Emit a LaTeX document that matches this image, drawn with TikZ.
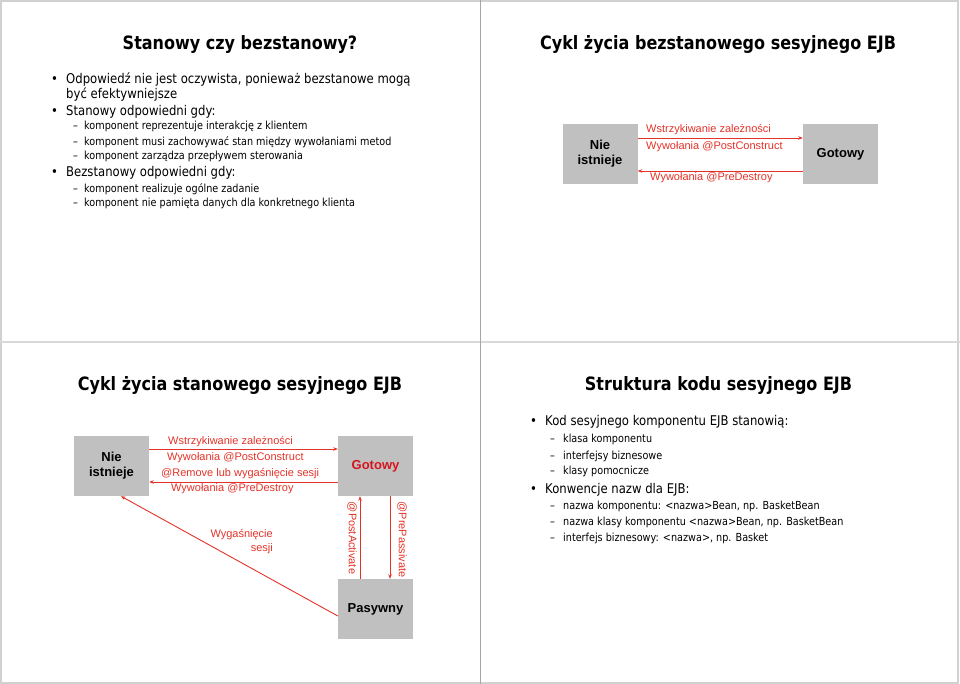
\documentclass[tikz,border=0pt]{standalone}
\usepackage{fontspec}
\setmainfont{DejaVu Sans}[FakeStretch=0.87]
\newfontfamily\arialf{Liberation Sans}
\usetikzlibrary{arrows.meta}
\definecolor{boxgray}{RGB}{192,192,192}
\definecolor{lred}{RGB}{228,50,40}
\definecolor{gred}{RGB}{215,20,30}
\begin{document}
\begin{tikzpicture}[x=1pt,y=-1pt,
  stitle/.style={font=\fontsize{18.4}{20}\selectfont\bfseries, inner sep=0},
  lvlone/.style={anchor=west, font=\fontsize{13.4}{15}\selectfont, inner sep=0, text height=10pt, text depth=3pt},
  lvltwo/.style={anchor=west, font=\fontsize{11.1}{13}\selectfont, inner sep=0, text height=8.4pt, text depth=2.6pt},
  statebox/.style={fill=boxgray, minimum width=75pt, minimum height=60pt, align=center, font=\arialf\bfseries\fontsize{13}{15}\selectfont, inner sep=0},
  lab/.style={font=\arialf\fontsize{11}{14}\selectfont, text=lred, inner sep=0},
  arr/.style={draw=lred, line width=0.9pt, -{Stealth[length=4.5pt,width=3.5pt]}},
  framel/.style={draw=black!18, line width=1.5pt}
]
\useasboundingbox (0,0) rectangle (960,684);
% frames
\draw[framel] (1,1) rectangle (958,683);
\draw[draw=black!15, line width=2.5pt] (0,342) -- (960,342);
\draw[draw=black!35, line width=1pt] (480,0) -- (480,684);

% ---------- slide 1
\node[stitle] (t1) at (240,44) {Stanowy czy bezstanowy?};
\node[lvlone] (b11) at (51,80) {•};
\node[lvlone] (s11) at (66,80) {Odpowiedź nie jest oczywista, ponieważ bezstanowe mogą};
\node[lvlone] (s12) at (66,95) {być efektywniejsze};
\node[lvlone] (b12) at (51,112) {•};
\node[lvlone] (s13) at (66,112) {Stanowy odpowiedni gdy:};
\node[lvltwo] (d11) at (73,127) {–};
\node[lvltwo] (u11) at (84,127) {komponent reprezentuje interakcję z klientem};
\node[lvltwo] (d12) at (73,143) {–};
\node[lvltwo] (u12) at (84,143) {komponent musi zachowywać stan między wywołaniami metod};
\node[lvltwo] (d13) at (73,157) {–};
\node[lvltwo] (u13) at (84,157) {komponent zarządza przepływem sterowania};
\node[lvlone] (b13) at (51,173) {•};
\node[lvlone] (s14) at (66,173) {Bezstanowy odpowiedni gdy:};
\node[lvltwo] (d14) at (73,190) {–};
\node[lvltwo] (u14) at (84,190) {komponent realizuje ogólne zadanie};
\node[lvltwo] (d15) at (73,204) {–};
\node[lvltwo] (u15) at (84,204) {komponent nie pamięta danych dla konkretnego klienta};

% ---------- slide 2
\node[stitle] (t2) at (718,45) {Cykl życia bezstanowego sesyjnego EJB};
\node[statebox] (ni1) at (600,154) {Nie\\istnieje};
\node[statebox] (g1) at (840.5,154) {Gotowy};
\draw[arr] (ni1.east |- 0,138) -- (g1.west |- 0,138);
\draw[arr] (g1.west |- 0,171) -- (ni1.east |- 0,171);
\node[lab, anchor=west] (l21) at (646,130) {Wstrzykiwanie zależności};
\node[lab, anchor=west] (l22) at (646,147) {Wywołania @PostConstruct};
\node[lab, anchor=west] (l23) at (650,178) {Wywołania @PreDestroy};

% ---------- slide 3
\node[stitle] (t3) at (240,385.5) {Cykl życia stanowego sesyjnego EJB};
\node[statebox] (ni2) at (111.5,466) {Nie\\istnieje};
\node[statebox, text=gred] (g2) at (375.5,466) {Gotowy};
\node[statebox] (p2) at (375.5,609) {Pasywny};
\draw[arr] (ni2.east |- 0,449) -- (g2.west |- 0,449);
\draw[arr] (g2.west |- 0,482) -- (ni2.east |- 0,482);
\node[lab, anchor=west] (l31) at (168,442) {Wstrzykiwanie zależności};
\node[lab, anchor=west] (l32) at (167,458) {Wywołania @PostConstruct};
\node[lab, anchor=west] (l33) at (161,474) {@Remove lub wygaśnięcie sesji};
\node[lab, anchor=west] (l34) at (171,489) {Wywołania @PreDestroy};
\draw[arr] (p2.north -| 360,0) -- (g2.south -| 360,0);
\draw[arr] (g2.south -| 390,0) -- (p2.north -| 390,0);
\node[lab, rotate=-90] (l35) at (352,538) {@PostActivate};
\node[lab, rotate=-90] (l36) at (402,539.5) {@PrePassivate};
\draw[arr] (p2.west |- 0,616) -- (ni2.south -| 121,0);
\node[lab, align=right, anchor=east] (l37) at (273,542) {Wygaśnięcie\\sesji};

% ---------- slide 4
\node[stitle] (t4) at (718.5,385.5) {Struktura kodu sesyjnego EJB};
\node[lvlone] (b41) at (530,422) {•};
\node[lvlone] (s41) at (545,422) {Kod sesyjnego komponentu EJB stanowią:};
\node[lvltwo] (d41) at (550,440) {–};
\node[lvltwo] (u41) at (563,440) {klasa komponentu};
\node[lvltwo] (d42) at (550,457) {–};
\node[lvltwo] (u42) at (563,457) {interfejsy biznesowe};
\node[lvltwo] (d43) at (550,472) {–};
\node[lvltwo] (u43) at (563,472) {klasy pomocnicze};
\node[lvlone] (b42) at (530,490) {•};
\node[lvlone] (s42) at (545,490) {Konwencje nazw dla EJB:};
\node[lvltwo] (d44) at (550,507) {–};
\node[lvltwo] (u44) at (563,507) {nazwa komponentu: <nazwa>Bean, np. BasketBean};
\node[lvltwo] (d45) at (550,523) {–};
\node[lvltwo] (u45) at (563,523) {nazwa klasy komponentu <nazwa>Bean, np. BasketBean};
\node[lvltwo] (d46) at (550,539) {–};
\node[lvltwo] (u46) at (563,539) {interfejs biznesowy: <nazwa>, np. Basket};
\end{tikzpicture}
\end{document}
